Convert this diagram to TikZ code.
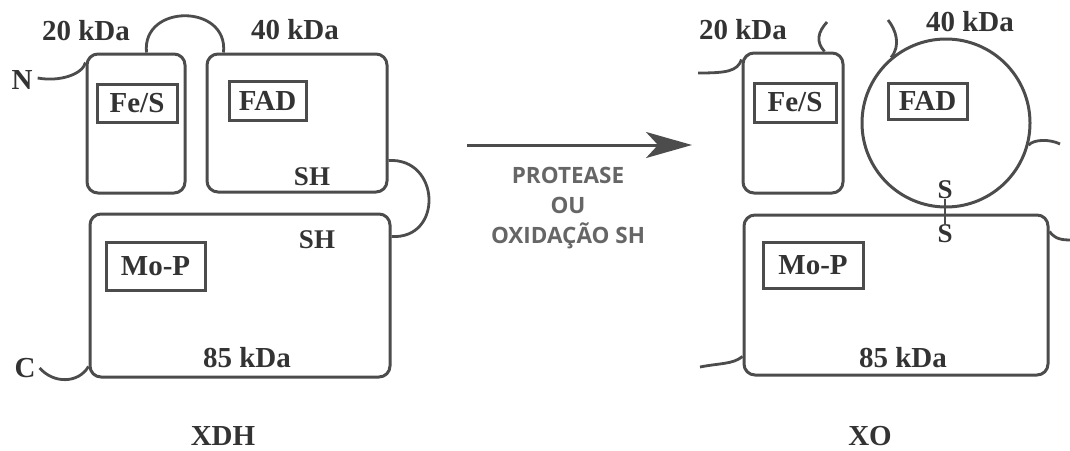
\documentclass[tikz,border=0pt]{standalone}
\usepackage{fontspec}
\setmainfont{Liberation Serif}
\newfontfamily\labelsans{Open Sans}
\usetikzlibrary{calc,arrows.meta}
\definecolor{ink}{gray}{0.3}
\definecolor{inktext}{gray}{0.2}

\begin{document}
\begin{tikzpicture}[x=1pt,y=-1pt,
    subunit/.style={draw=ink,line width=3pt,rounded corners=11pt,inner sep=0pt},
    ring/.style={draw=ink,line width=3pt,circle,inner sep=0pt},
    cofactor/.style={draw=ink,line width=3pt,inner sep=0pt,text=inktext,
                     font=\bfseries\fontsize{29}{30}\selectfont},
    mass/.style={text=inktext,inner sep=0pt,font=\bfseries\fontsize{29}{30}\selectfont},
    thiol/.style={text=inktext,inner sep=0pt,font=\bfseries\fontsize{27}{28}\selectfont},
    chain/.style={draw=ink,line width=2.8pt},
]
\useasboundingbox (0,0) rectangle (1070,450);

% ---- XDH (left) ----------------------------------------------------------
\node[subunit,minimum width=98pt,minimum height=139pt]  (fesL) at (136,123.5) {};
\node[subunit,minimum width=180pt,minimum height=138pt] (fadL) at (297,123) {};
\node[subunit,minimum width=300pt,minimum height=163pt] (moL)  at (240,295.5) {};

\node[cofactor,minimum width=80pt,minimum height=38pt] (fesLc) at (137,103) {Fe/S};
\node[cofactor,minimum width=77pt,minimum height=39pt] (fadLc) at (267.5,100.5) {FAD};
\node[cofactor,minimum width=99pt,minimum height=48pt] (moLc)  at (155.5,266) {Mo-P};

\node[mass] (kda20L) at (86,31)  {20 kDa};
\node[mass] (kda40L) at (295,30) {40 kDa};
\node[mass] (kda85L) at (247,358) {85 kDa};
\node[thiol] (shA) at (312,177) {SH};
\node[thiol] (shB) at (317,240) {SH};
\node[mass] (nL) at (22,80)  {N};
\node[mass] (cL) at (25,368) {C};
\node[mass] (xdh) at (223,436) {XDH};

% chain between the subunits
\draw[chain] (nL.east) ++(5,-2) .. controls +(22,4) and +(-3,12) .. ($(fesL.north west)+(0,10)$);
\draw[chain] ($(fesL.north east)+(-40,0)$) .. controls +(-5,-49) and +(5,-49) .. ($(fadL.north west)+(18,0)$);
\draw[chain] ($(fadL.north east)+(0,108)$) .. controls +(52,-3) and +(52,3) .. ($(moL.north east)+(0,24)$);
\draw[chain] (cL.east) ++(4,0) .. controls +(14,16) and +(-10,17) .. ($(moL.south west)+(0,-12)$);

% ---- Arrow ---------------------------------------------------------------
\coordinate (arrS) at (467,145);
\coordinate (arrE) at (692,145);
\draw[draw=ink,line width=3pt,-{Stealth[length=46pt,width=26pt,inset=12pt]}] (arrS) -- (arrE);
\node[font=\labelsans\bfseries\fontsize{22.5}{30}\selectfont,text=black!60,align=center,inner sep=0pt]
    (treat) at (568,208) {PROTEASE\\OU\\OXIDAÇÃO SH};

% ---- XO (right) ----------------------------------------------------------
\node[subunit,minimum width=100pt,minimum height=140pt] (fesR) at (793,123) {};
\node[ring,minimum size=168pt]                          (fadR) at (946,123) {};
\node[subunit,minimum width=304pt,minimum height=160pt] (moR)  at (896,295) {};

\node[cofactor,minimum width=82pt,minimum height=39pt]  (fesRc) at (795,102.5) {Fe/S};
\node[cofactor,minimum width=79pt,minimum height=36pt]  (fadRc) at (927.5,101) {FAD};
\node[cofactor,minimum width=100pt,minimum height=46pt] (moRc)  at (813,265) {Mo-P};

\node[mass] (kda20R) at (743,30)  {20 kDa};
\node[mass] (kda40R) at (970,22)  {40 kDa};
\node[mass] (kda85R) at (903,358) {85 kDa};
\node[mass] (xo) at (870,436) {XO};

% disulfide bridge
\node[thiol] (sTop) at (945,190) {S};
\node[thiol] (sBot) at (945,234) {S};
\draw[chain,line width=2.2pt] (sTop.south) -- (sBot.north);

% cut chain ends
\coordinate (nR)    at (698,73);
\coordinate (cutA)  at (827,22);
\coordinate (cutB)  at (888,20);
\coordinate (tailF) at (1060,144);
\coordinate (tailM) at (1072,240);
\coordinate (cR)    at (700,367);
\draw[chain] (nR) .. controls +(28,0) and +(-4,12) .. ($(fesR.north west)+(0,8)$);
\draw[chain] ($(fesR.north east)+(-20,0)$) .. controls +(-9,-10) and +(-9,10) .. (cutA);
\draw[chain] (fadR.130) .. controls +(10,-12) and +(8,10) .. (cutB);
\draw[chain] (fadR.-15) .. controls +(5,-6) and +(-10,-5) .. (tailF);
\draw[chain] ($(moR.north east)+(0,18)$) .. controls +(6,8) and +(-10,0) .. (tailM);
\draw[chain] (cR) .. controls +(20,-4) and +(-10,8) .. ($(moR.south west)+(0,-20)$);

\end{tikzpicture}
\end{document}
